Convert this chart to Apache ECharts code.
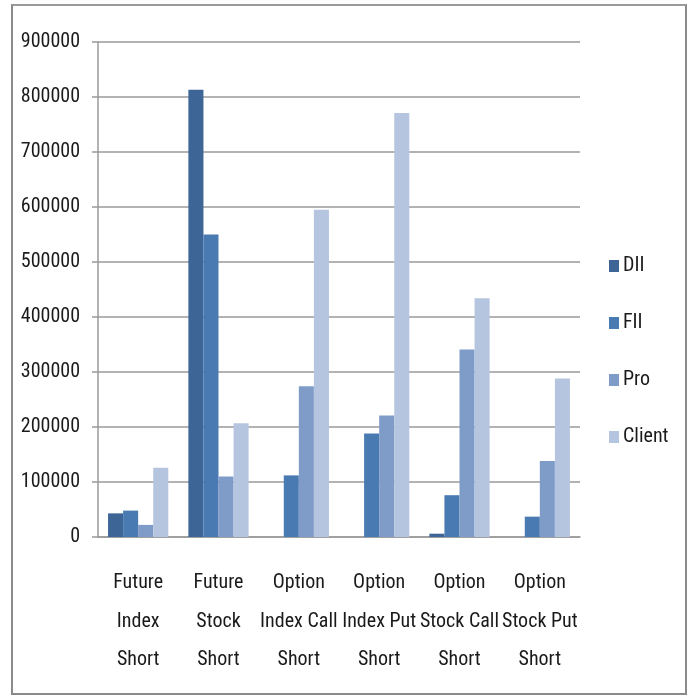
<!DOCTYPE html>
<html>
<head>
<meta charset="utf-8">
<script src="https://cdn.jsdelivr.net/npm/echarts@6/dist/echarts.min.js"></script>
<style>
  html, body { margin: 0; padding: 0; background: #fff; }
  #frame { position: absolute; left: 11px; top: 4px; width: 672px; height: 687px; border: 2px solid #8a8a8a; border-top-color: #9a9a9a; box-sizing: content-box; }
  #chart { position: absolute; left: 0; top: 0; width: 691px; height: 700px; }
</style>
</head>
<body>
<div id="frame"></div>
<div id="chart"></div>
<script>
// Short positions by participant type
const categories = [
  'Future\nIndex\nShort',
  'Future\nStock\nShort',
  'Option\nIndex Call\nShort',
  'Option\nIndex Put\nShort',
  'Option\nStock Call\nShort',
  'Option\nStock Put\nShort'
];
const dii    = [43000, 813000, 0, 0, 6000, 0];
const fii    = [48000, 550000, 112000, 188000, 76000, 37000];
const pro    = [22000, 110000, 274000, 221000, 341000, 138000];
const client = [126000, 207000, 595000, 771000, 434000, 288000];
const seriesNames = ['DII', 'FII', 'Pro', 'Client'];
const colors = ['#3d6596', '#4a7ab2', '#7f9cc9', '#b6c5df'];

const font = '"Roboto Condensed", "Liberation Sans Narrow", sans-serif';
const chart = echarts.init(document.getElementById('chart'), null, { renderer: 'canvas' });

const values = [dii, fii, pro, client];
chart.setOption({
  animation: false,
  color: colors,
  grid: { left: 98, right: 111, top: 42, bottom: 163 },
  legend: {
    orient: 'vertical',
    left: 609,
    top: 256,
    padding: 0,
    itemWidth: 10,
    itemHeight: 12,
    itemGap: 37,
    icon: 'rect',
    data: seriesNames,
    textStyle: { fontFamily: font, fontSize: 20, color: '#1a1a1a', lineHeight: 20, padding: [0, 0, 0, -1] }
  },
  xAxis: {
    type: 'category',
    data: categories,
    axisLine: { lineStyle: { color: '#9a9a9a', width: 1.5 } },
    axisTick: { length: 11, lineStyle: { color: '#9a9a9a', width: 1.5 } },
    axisLabel: { fontFamily: font, fontSize: 20, color: '#1a1a1a', lineHeight: 38.5, margin: 27, interval: 0 }
  },
  yAxis: {
    type: 'value',
    min: 0,
    max: 900000,
    interval: 100000,
    axisLine: { show: true, lineStyle: { color: '#9a9a9a', width: 1.5 } },
    axisTick: { show: true, length: 6, lineStyle: { color: '#9a9a9a', width: 1.5 } },
    splitLine: { lineStyle: { color: '#9a9a9a', width: 1.5 } },
    axisLabel: { fontFamily: font, fontSize: 20, color: '#1a1a1a', margin: 18, formatter: v => String(v) }
  },
  series: seriesNames.map((name, i) => ({
    name: name,
    type: 'bar',
    data: values[i],
    barGap: '0%',
    barCategoryGap: '25%'
  }))
});
</script>
</body>
</html>
